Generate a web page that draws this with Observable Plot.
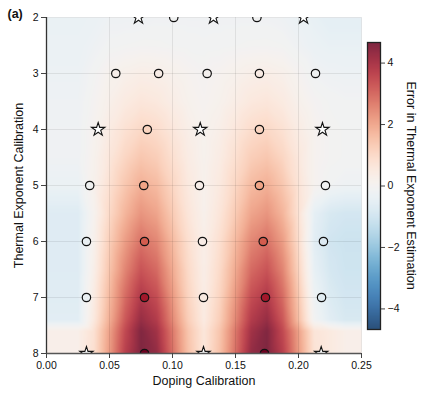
<!DOCTYPE html>
<html>
<head>
<meta charset="utf-8">
<script src="https://cdn.jsdelivr.net/npm/d3@7"></script>
<script src="https://cdn.jsdelivr.net/npm/@observablehq/plot@0.6"></script>
<style>
  html, body { margin: 0; padding: 0; background: white; }
  #wrap { position: relative; width: 422px; height: 398px; overflow: hidden; }
  #wrap > div, #wrap > svg { position: absolute; }
</style>
</head>
<body>
<div id="wrap"></div>
<script>
// ---- data ----
const xTicks = [0, 0.05, 0.10, 0.15, 0.20, 0.25];
const yTicks = [2, 3, 4, 5, 6, 7, 8];
const colorTicks = [-4, -2, 0, 2, 4];
const colorLimit = 4.67;

const heatX = [0, 0.0125, 0.025, 0.0375, 0.05, 0.0625, 0.075, 0.0875, 0.1, 0.1125, 0.125,
               0.1375, 0.15, 0.1625, 0.175, 0.1875, 0.2, 0.2125, 0.225, 0.2375, 0.25];
const heatY = [2, 2.5, 3, 3.5, 4, 4.5, 5, 5.5, 6, 6.5, 7, 7.4, 7.6, 8];
const heatValues = [
  [-0.4,-0.4,-0.4,-0.35,-0.25,-0.25,-0.25,-0.2,-0.2,-0.2,-0.2,-0.2,-0.2,-0.2,-0.2,-0.25,-0.35,-0.45,-0.55,-0.55,-0.55],
  [-0.35,-0.35,-0.35,-0.25,-0.12,-0.08,-0.05,-0.06,-0.09,-0.12,-0.14,-0.12,-0.09,-0.06,-0.05,-0.08,-0.22,-0.36,-0.42,-0.42,-0.42],
  [-0.3,-0.3,-0.3,-0.1,0.15,0.26,0.35,0.31,0.2,0.09,0.0,0.09,0.2,0.31,0.35,0.26,0.05,-0.18,-0.25,-0.28,-0.28],
  [-0.25,-0.25,-0.25,0.0,0.27,0.49,0.64,0.57,0.37,0.18,0.05,0.18,0.37,0.57,0.64,0.49,0.22,0,-0.1,-0.15,-0.15],
  [-0.22,-0.22,-0.22,0.1,0.47,0.8,1.04,0.93,0.62,0.32,0.13,0.32,0.62,0.93,1.04,0.8,0.42,0.11,-0.05,-0.1,-0.1],
  [-0.22,-0.22,-0.22,0.15,0.64,1.1,1.44,1.28,0.85,0.43,0.16,0.43,0.85,1.28,1.44,1.1,0.59,0.1,-0.05,-0.1,-0.1],
  [-0.35,-0.35,-0.35,0.2,0.83,1.44,1.88,1.68,1.1,0.55,0.2,0.55,1.1,1.68,1.88,1.44,0.73,0.1,-0.15,-0.25,-0.25],
  [-0.7,-0.7,-0.7,0.1,1.02,1.78,2.33,2.07,1.36,0.67,0.23,0.67,1.36,2.07,2.33,1.78,0.77,-0.5,-0.85,-0.95,-0.95],
  [-0.7,-0.7,-0.7,0.2,1.28,2.2,2.87,2.56,1.7,0.86,0.32,0.86,1.7,2.56,2.87,2.2,0.93,-0.6,-1.0,-1.1,-1.1],
  [-0.7,-0.7,-0.7,0.3,1.49,2.58,3.37,3.0,1.98,0.99,0.36,0.99,1.98,3.0,3.37,2.58,1.14,-0.45,-0.9,-1.05,-1.05],
  [-0.65,-0.65,-0.65,0.45,1.72,2.99,3.91,3.49,2.29,1.14,0.41,1.14,2.29,3.49,3.91,2.99,1.42,-0.25,-0.75,-0.95,-0.95],
  [-0.6,-0.6,-0.6,0.55,1.91,3.3,4.31,3.85,2.54,1.28,0.49,1.28,2.54,3.85,4.31,3.3,1.61,-0.1,-0.6,-0.85,-0.85],
  [0.3,0.3,0.3,0.8,2.13,3.56,4.61,4.13,2.78,1.47,0.65,1.47,2.78,4.13,4.61,3.56,2.13,0.7,0.52,0.3,0.3],
  [0.3,0.3,0.3,0.85,2.23,3.75,4.65,4.35,2.92,1.54,0.67,1.54,2.92,4.35,4.65,3.75,2.23,0.75,0.53,0.3,0.3]
];

const circleX = [0.101, 0.167,
                 0.055, 0.089, 0.1275, 0.169, 0.2135,
                 0.080, 0.169,
                 0.0343, 0.0772, 0.1214, 0.169, 0.2214,
                 0.0317, 0.0778, 0.1238, 0.172, 0.2198,
                 0.0317, 0.0778, 0.1246, 0.1738, 0.2183,
                 0.0778, 0.173];
const circleY = [2, 2,
                 3, 3, 3, 3, 3,
                 4, 4,
                 5, 5, 5, 5, 5,
                 6, 6, 6, 6, 6,
                 7, 7, 7, 7, 7,
                 8, 8];
const circleValue = [-0.1, -0.1,
                     0.2, 0.3, 0.05, 0.35, -0.15,
                     1.0, 1.0,
                     -0.1, 1.85, 0.2, 1.85, -0.1,
                     -0.3, 2.85, 0.3, 2.85, -0.6,
                     -0.3, 3.9, 0.4, 3.9, -0.5,
                     4.6, 4.6];
const starX = [0.073, 0.1325, 0.204, 0.041, 0.122, 0.219, 0.0317, 0.1246, 0.218];
const starY = [2, 2, 2, 4, 4, 4, 8, 8, 8];

const titleText = "(a)";
const xLabel = "Doping Calibration";
const yLabel = "Thermal Exponent Calibration";
const colorLabel = "Error in Thermal Exponent Estimation";

// ---- build tables ----
const heat = heatY.flatMap((y, i) => heatX.map((x, j) => ({x, y, v: heatValues[i][j]})));
const circles = circleX.map((x, i) => ({x, y: circleY[i], v: circleValue[i]}));
const stars = starX.map((x, i) => ({x, y: starY[i]}));

const font = "'Liberation Sans', Arial, Helvetica, sans-serif";
const colorOpts = {type: "linear", scheme: "RdBu", reverse: true, domain: [-colorLimit, colorLimit]};
const fmtMinus = d => d < 0 ? "\u2212" + Math.abs(d) : String(d);

const main = Plot.plot({
  width: 422, height: 398,
  marginLeft: 46, marginRight: 61, marginTop: 17, marginBottom: 45,
  style: {fontFamily: font, fontSize: "10.5px", color: "#111", background: "transparent"},
  x: {domain: [0, 0.25]},
  y: {domain: [2, 8], reverse: true},
  color: colorOpts,
  marks: [
    Plot.raster(heat, {x: "x", y: "y", fill: "v", interpolate: "barycentric",
      x1: 0, x2: 0.25, y1: 2, y2: 8, pixelSize: 1, fillOpacity: 0.85}),
    Plot.gridX(xTicks, {stroke: "#000", strokeOpacity: 0.08}),
    Plot.gridY(yTicks, {stroke: "#000", strokeOpacity: 0.08}),
    Plot.dot(circles, {x: "x", y: "y", r: 4.2, fill: "v", stroke: "#111", strokeWidth: 1.2, clip: true}),
    Plot.dot(stars, {x: "x", y: "y", symbol: "star", r: 4.2, fill: "white", stroke: "#111", strokeWidth: 1.1, clip: true}),
    Plot.ruleX([0], {stroke: "#333", strokeWidth: 1.3}),
    Plot.ruleY([8], {stroke: "#555", strokeWidth: 1.3}),
    Plot.axisX(xTicks, {tickFormat: d => d.toFixed(2), tickSize: 5, tickPadding: 3, label: null, stroke: "#444", fontSize: 10.5}),
    Plot.axisY(yTicks, {tickFormat: d => String(d), tickSize: 5, tickPadding: 3, label: null, stroke: "#444", fontSize: 10.5}),
    Plot.text([xLabel], {frameAnchor: "bottom", dy: 31, textAnchor: "middle", fontSize: 12.5, fill: "#111"}),
    Plot.text([yLabel], {frameAnchor: "left", rotate: -90, dx: -28, textAnchor: "middle", fontSize: 12.5, fill: "#111"}),
    Plot.text([colorLabel], {frameAnchor: "right", rotate: 90, dx: 49, textAnchor: "middle", fontSize: 12.5, fill: "#111"}),
    Plot.text([titleText], {frameAnchor: "top-left", dx: -39, dy: -4, lineAnchor: "middle", textAnchor: "start", fontSize: 12.5, fontWeight: "bold", fill: "#111"})
  ]
});

const bar = Plot.plot({
  width: 40, height: 287,
  marginLeft: 0, marginRight: 27, marginTop: 0, marginBottom: 0,
  style: {fontFamily: font, fontSize: "10.5px", color: "#111", background: "transparent", overflow: "visible"},
  x: {domain: [0, 1], axis: null},
  y: {domain: [-colorLimit, colorLimit]},
  color: colorOpts,
  marks: [
    Plot.raster({x1: 0, x2: 1, y1: -colorLimit, y2: colorLimit, fill: (x, y) => y, fillOpacity: 0.85}),
    Plot.frame({stroke: "#222", strokeWidth: 1.3}),
    Plot.axisY(colorTicks, {anchor: "right", tickSize: 4, tickPadding: 3, tickFormat: fmtMinus, label: null, stroke: "#444", fontSize: 10.5})
  ]
});

const wrap = document.getElementById("wrap");
main.style.left = "0px"; main.style.top = "0px";
bar.style.left = "367px"; bar.style.top = "42px";
wrap.appendChild(main);
wrap.appendChild(bar);
</script>
</body>
</html>
